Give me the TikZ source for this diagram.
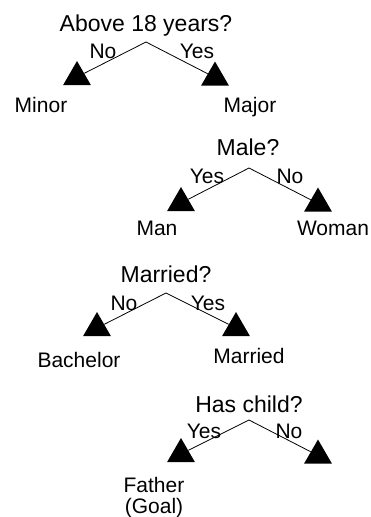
\documentclass[tikz,border=0pt]{standalone}
\usepackage{fontspec}
\setmainfont{Liberation Sans}
\usetikzlibrary{shapes.geometric}

\tikzset{
  question/.style={anchor=base, inner sep=0pt, font=\fontsize{23}{25}\selectfont},
  answer/.style={anchor=base, inner sep=0pt, font=\fontsize{21}{21.5}\selectfont},
  leaf/.style={regular polygon, regular polygon sides=3, fill=black, inner sep=0pt, minimum size=32pt},
  branch/.style={line width=0.8pt}
}

\begin{document}
\begin{tikzpicture}[x=1pt, y=-1pt]
        \useasboundingbox (0,0) rectangle (370,517);

        % Above 18 years?
        \node[question] (age) at (146,31) {Above 18 years?};
        \coordinate (agefork) at (146,42);
        \node[leaf] (minortri) at (77,77) {};
        \node[leaf] (majortri) at (215,77.5) {};
        \node[answer] (ageno) at (103,58) {No};
        \node[answer] (ageyes) at (197,58) {Yes};
        \node[answer] (minor) at (41,112) {Minor};
        \node[answer] (major) at (250,112) {Major};
        \draw[branch] (agefork) -- (minortri);
        \draw[branch] (agefork) -- (majortri);

        % Male?
        \node[question] (male) at (248,155) {Male?};
        \coordinate (malefork) at (249,168);
        \node[leaf] (mantri) at (181,203) {};
        \node[leaf] (womantri) at (318,203.5) {};
        \node[answer] (maleyes) at (207,183) {Yes};
        \node[answer] (maleno) at (290,183) {No};
        \node[answer] (man) at (157,235) {Man};
        \node[answer] (woman) at (333,235) {Woman};
        \draw[branch] (malefork) -- (mantri);
        \draw[branch] (malefork) -- (womantri);

        % Married?
        \node[question] (wed) at (166,282) {Married?};
        \coordinate (wedfork) at (166,293);
        \node[leaf] (bachelortri) at (97,328) {};
        \node[leaf] (marriedtri) at (236,328) {};
        \node[answer] (wedno) at (124,310) {No};
        \node[answer] (wedyes) at (208,310) {Yes};
        \node[answer] (bachelor) at (79,367) {Bachelor};
        \node[answer] (married) at (249,363) {Married};
        \draw[branch] (wedfork) -- (bachelortri);
        \draw[branch] (wedfork) -- (marriedtri);

        % Has child?
        \node[question] (child) at (249,412) {Has child?};
        \coordinate (childfork) at (249,420);
        \node[leaf] (fathertri) at (181,454) {};
        \node[leaf] (nochildtri) at (318,455.5) {};
        \node[answer] (childyes) at (204,438) {Yes};
        \node[answer] (childno) at (289,438) {No};
        \node[answer, anchor=north, align=center] (father) at (154,476.7) {Father\\(Goal)};
        \draw[branch] (childfork) -- (fathertri);
        \draw[branch] (childfork) -- (nochildtri);
    \end{tikzpicture}
\end{document}
